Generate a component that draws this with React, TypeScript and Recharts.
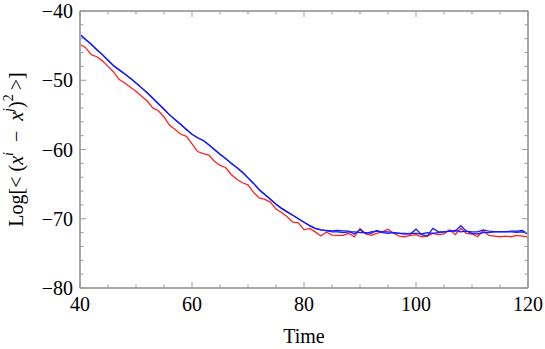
import React from "react";
import { LineChart, Line, XAxis, YAxis } from "recharts";

const times = [
  40, 41, 42, 43, 44, 45, 46, 47, 48, 49, 50, 51, 52, 53, 54, 55, 56, 57, 58, 59,
  60, 61, 62, 63, 64, 65, 66, 67, 68, 69, 70, 71, 72, 73, 74, 75, 76, 77, 78, 79,
  80, 81, 82, 83, 84, 85, 86, 87, 88, 89, 90, 91, 92, 93, 94, 95, 96, 97, 98, 99,
  100, 101, 102, 103, 104, 105, 106, 107, 108, 109, 110, 111, 112, 113, 114, 115, 116, 117, 118, 119,
  120,
];

const blueA = [
  -43.4, -44.1, -44.8, -45.6, -46.3, -47.1, -47.9, -48.5, -49.1, -49.7,
  -50.4, -51.1, -51.8, -52.6, -53.4, -54.2, -55.0, -55.7, -56.4, -57.1,
  -57.8, -58.3, -58.7, -59.3, -60.0, -60.7, -61.3, -62.0, -62.6, -63.3,
  -64.1, -64.9, -65.8, -66.5, -67.2, -67.9, -68.5, -69.0, -69.5, -70.0,
  -70.5, -71.0, -71.4, -71.6, -71.7, -71.75, -71.7, -71.75, -71.8, -72.2,
  -71.6, -72.1, -71.9, -71.8, -71.9, -71.9, -72.0, -72.1, -72.1, -72.2,
  -71.5, -72.3, -72.5, -71.4, -71.9, -71.9, -71.8, -71.8, -71.0, -71.8,
  -71.9, -71.9, -71.6, -71.8, -71.85, -71.85, -71.85, -71.8, -71.8, -71.7,
  -72.2,
];

const blueB = [
  -43.4, -44.1, -44.8, -45.6, -46.3, -47.1, -47.9, -48.5, -49.1, -49.7,
  -50.4, -51.1, -51.8, -52.6, -53.4, -54.2, -55.0, -55.7, -56.4, -57.1,
  -57.8, -58.3, -58.7, -59.3, -60.0, -60.7, -61.3, -62.0, -62.6, -63.3,
  -64.1, -64.9, -65.8, -66.5, -67.2, -67.9, -68.5, -69.0, -69.5, -70.0,
  -70.5, -71.0, -71.4, -71.6, -71.7, -71.9, -71.9, -72.0, -71.9, -71.9,
  -72.0, -72.0, -72.1, -71.7, -72.0, -72.1, -72.0, -72.1, -72.2, -72.1,
  -72.1, -72.2, -72.0, -72.1, -72.0, -71.9, -71.8, -71.7, -71.9, -71.8,
  -72.1, -72.2, -72.0, -72.0, -71.9, -71.9, -71.9, -71.9, -71.95, -71.9,
  -72.2,
];

const red = [
  -44.8, -45.3, -46.3, -46.6, -47.2, -48.0, -48.8, -49.9, -50.4, -51.0,
  -51.6, -52.3, -53.0, -54.0, -54.4, -55.3, -56.5, -57.1, -57.8, -58.1,
  -59.2, -60.3, -60.6, -60.8, -61.7, -62.3, -62.6, -63.6, -64.3, -64.8,
  -65.1, -66.2, -67.0, -67.2, -67.6, -68.6, -69.1, -69.7, -70.5, -70.6,
  -71.6, -71.4, -71.9, -72.5, -71.9, -72.35, -72.4, -72.4, -72.1, -72.6,
  -71.4, -72.2, -72.4, -72.1, -71.9, -71.5, -72.1, -72.5, -72.6, -72.4,
  -72.3, -72.6, -72.5, -72.1, -72.3, -72.2, -71.6, -72.3, -71.4, -72.1,
  -72.2, -72.6, -71.7, -72.4, -72.5, -72.6, -72.5, -72.6, -72.4, -72.5,
  -72.65,
];

const xTicks = [40, 45, 50, 55, 60, 65, 70, 75, 80, 85, 90, 95, 100, 105, 110, 115, 120];
const yTicks = [
  -80, -78, -76, -74, -72, -70, -68, -66, -64, -62, -60,
  -58, -56, -54, -52, -50, -48, -46, -44, -42, -40,
];

const data = times.map((t, i) => ({ t, a: blueA[i], b: blueB[i], r: red[i] }));

const FONT = "'Liberation Serif', 'Times New Roman', serif";
const FRAME = "#a8a8a8";
const TICK = "#9a9a9a";

const fmt = (v: number) => (v < 0 ? "\u2212" + Math.abs(v) : String(v));

function BottomTick({ x, y, payload }: any) {
  const major = payload.value % 20 === 0;
  return (
    <g>
      <line x1={x} x2={x} y1={y} y2={y - (major ? 6 : 3.5)} stroke={TICK} />
      {major && (
        <text x={x} y={y + 22.5} textAnchor="middle" fontFamily={FONT} fontSize={20} fill="#000">
          {fmt(payload.value)}
        </text>
      )}
    </g>
  );
}

function TopTick({ x, y, payload }: any) {
  const major = payload.value % 20 === 0;
  return <line x1={x} x2={x} y1={y} y2={y + (major ? 6 : 3.5)} stroke={TICK} />;
}

function LeftTick({ x, y, payload }: any) {
  const major = payload.value % 10 === 0;
  return (
    <g>
      <line x1={x} x2={x + (major ? 6 : 3.5)} y1={y} y2={y} stroke={TICK} />
      {major && (
        <text x={x - 7} y={y + 7} textAnchor="end" fontFamily={FONT} fontSize={20} fill="#000">
          {fmt(payload.value)}
        </text>
      )}
    </g>
  );
}

function RightTick({ x, y, payload }: any) {
  const major = payload.value % 10 === 0;
  return <line x1={x} x2={x - (major ? 6 : 3.5)} y1={y} y2={y} stroke={TICK} />;
}

function YLabel({ viewBox }: any) {
  const cy = viewBox.y + viewBox.height / 2;
  const cx = 16;
  return (
    <text
      x={cx}
      y={cy}
      transform={`rotate(-90, ${cx}, ${cy})`}
      textAnchor="middle"
      dominantBaseline="central"
      fontFamily={FONT}
      fontSize={20}
      fill="#000"
    >
      Log[&lt; (<tspan fontStyle="italic">x</tspan>
      <tspan fontStyle="italic" fontSize={14} dy={-8}>i</tspan>
      <tspan dy={8}>{"\u2002\u2212\u2002"}</tspan>
      <tspan fontStyle="italic">x</tspan>
      <tspan fontStyle="italic" fontSize={14} dy={-8}>j</tspan>
      <tspan dy={8}>)</tspan>
      <tspan fontSize={14} dy={-8}>2</tspan>
      <tspan dy={8}>{"\u2009>]"}</tspan>
    </text>
  );
}

function XLabel({ viewBox }: any) {
  const cx = viewBox.x + viewBox.width / 2;
  return (
    <text x={cx} y={viewBox.y + 55} textAnchor="middle" fontFamily={FONT} fontSize={20} fill="#000">
      Time
    </text>
  );
}

export default function App() {
  return (
    <div style={{ width: 545, height: 349, position: "absolute", left: 0, top: 0 }}>
      <LineChart width={545} height={349} data={data} margin={{ top: 10, right: 16, bottom: 0, left: 0 }}>
        <XAxis
          dataKey="t"
          type="number"
          domain={[40, 120]}
          ticks={xTicks}
          interval={0}
          height={61}
          tickSize={0}
          tickMargin={0}
          tickLine={false}
          axisLine={{ stroke: FRAME, strokeWidth: 2 }}
          tick={<BottomTick />}
          label={{ content: <XLabel /> }}
        />
        <XAxis
          xAxisId="top"
          orientation="top"
          dataKey="t"
          type="number"
          domain={[40, 120]}
          ticks={xTicks}
          interval={0}
          height={1}
          tickSize={0}
          tickMargin={0}
          tickLine={false}
          axisLine={{ stroke: FRAME, strokeWidth: 2 }}
          tick={<TopTick />}
        />
        <YAxis
          type="number"
          domain={[-80, -40]}
          ticks={yTicks}
          interval={0}
          width={80}
          tickSize={0}
          tickMargin={0}
          tickLine={false}
          axisLine={{ stroke: FRAME, strokeWidth: 2 }}
          tick={<LeftTick />}
          label={{ content: <YLabel /> }}
        />
        <YAxis
          yAxisId="right"
          orientation="right"
          type="number"
          domain={[-80, -40]}
          ticks={yTicks}
          interval={0}
          width={1}
          tickSize={0}
          tickMargin={0}
          tickLine={false}
          axisLine={{ stroke: FRAME, strokeWidth: 2 }}
          tick={<RightTick />}
        />
        <Line
          xAxisId="top"
          yAxisId="right"
          dataKey="a"
          stroke="none"
          dot={false}
          activeDot={false}
          legendType="none"
          isAnimationActive={false}
        />
        <Line dataKey="r" stroke="#ff2020" strokeWidth={1.3} dot={false} isAnimationActive={false} />
        <Line dataKey="b" stroke="#1a1aff" strokeWidth={1.3} dot={false} isAnimationActive={false} />
        <Line dataKey="a" stroke="#1a1aff" strokeWidth={1.3} dot={false} isAnimationActive={false} />
      </LineChart>
    </div>
  );
}
